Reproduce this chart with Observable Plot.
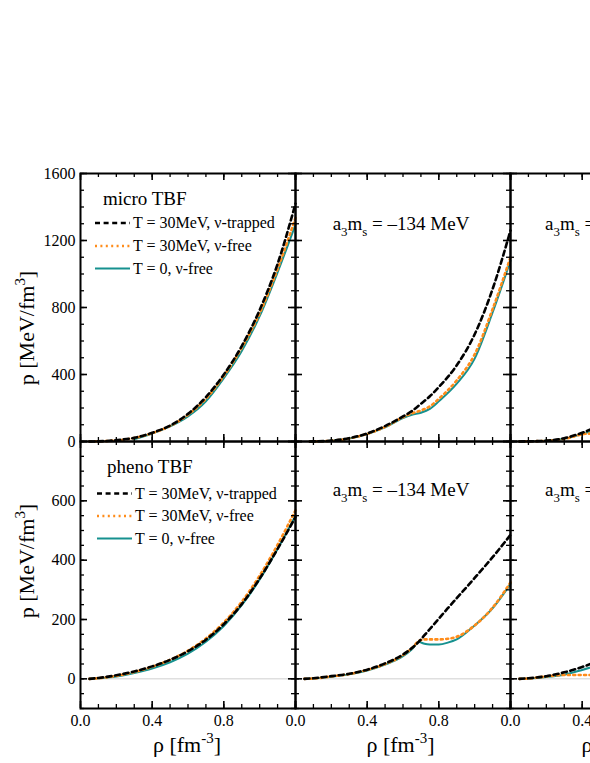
<!DOCTYPE html>
<html><head><meta charset="utf-8">
<script src="https://cdn.jsdelivr.net/npm/d3@7"></script>
<script src="https://cdn.jsdelivr.net/npm/@observablehq/plot@0.6"></script>
<style>
html,body{margin:0;padding:0;background:#fff;overflow:hidden;width:590px;height:763px;}
#chart svg{max-width:none !important;overflow:visible;display:block;}
</style></head><body><div id="chart"></div>
<script>
// ---------- data ----------
const panelsIdx = [0, 1, 2];
const legendLabels = ["T = 30MeV, \u03bd-trapped", "T = 30MeV, \u03bd-free", "T = 0, \u03bd-free"];
const rowLabels = ["micro TBF", "pheno TBF"];
const a3msValue = "\u2013134 MeV";

// top row, panel 0 (micro TBF)
const rhoA = [0.05, 0.1, 0.2, 0.3, 0.4, 0.5, 0.6, 0.7, 0.8, 0.9, 1.0, 1.1, 1.2];
const pA_trapped = [0, 1, 8, 22, 52, 95, 165, 265, 400, 570, 785, 1060, 1420];
const pA_hot     = [0, 1, 6, 21, 50, 93, 160, 255, 392, 560, 765, 1030, 1335];
const pA_cold    = [null, null, null, 13, 48, 90, 150, 240, 378, 540, 748, 1010, 1295];
// top row, panel 1 (a3ms = -134)
const rhoB = [0.08, 0.2, 0.3, 0.4, 0.5, 0.6, 0.65, 0.7, 0.75, 0.8, 0.9, 1.0, 1.1, 1.2];
const pB_trapped = [0, 5, 20, 48, 92, 150, 182, 225, 270, 325, 455, 640, 910, 1260];
const pB_hot     = [0, 4, 18, 46, 87, 145, 168, 185, 210, 255, 365, 520, 790, 1100];
const pB_cold    = [0, 4, 18, 45, 85, 140, 160, 172, 195, 240, 345, 495, 770, 1080];
// top row, panel 2 (cropped)
const rhoC = [0.05, 0.1, 0.2, 0.3, 0.4, 0.42, 0.5];
const pC_trapped = [0, 1, 5, 20, 52, 60, 100];
const pC_hot     = [0, 1, 4, 15, 43, 46, 48];
const pC_cold    = [0, 1, 4, 16, 44, 50, 88];
// bottom row, panel 0 (pheno TBF)
const rhoD = [0.05, 0.1, 0.2, 0.3, 0.4, 0.5, 0.6, 0.7, 0.8, 0.9, 1.0, 1.1, 1.2];
const pD_trapped = [0, 3, 12, 25, 42, 64, 93, 132, 184, 252, 338, 438, 545];
const pD_hot     = [0, 2, 10, 23, 41, 64, 95, 136, 190, 260, 348, 452, 568];
const pD_cold    = [0, 2, 8, 20, 35, 56, 85, 125, 178, 248, 335, 438, 550];
// bottom row, panel 1 (a3ms = -134)
const rhoE = [0.05, 0.1, 0.2, 0.3, 0.4, 0.5, 0.6, 0.65, 0.69, 0.72, 0.75, 0.8, 0.85, 0.9, 1.0, 1.1, 1.2];
const pE_trapped = [0, 2, 9, 17, 31, 52, 82, 104, 126, 147, 168, 203, 238, 272, 340, 410, 485];
const pE_hot     = [0, 1, 8, 16, 30, 50, 80, 104, 128, 133, 133, 133, 135, 142, 180, 240, 325];
const pE_cold    = [0, 1, 7, 15, 28, 48, 76, 100, 124, 118, 116, 116, 122, 133, 180, 238, 320];
// bottom row, panel 2 (cropped)
const rhoF = [0.05, 0.1, 0.2, 0.3, 0.4, 0.5];
const pF_trapped = [0, 2, 9, 22, 40, 62];
const pF_hot     = [0, 1, 8, 13, 13, 13];
const pF_cold    = [0, 1, 6, 14, 30, 48];

// ticks
const xMinorTicks = [0, 0.1, 0.2, 0.3, 0.4, 0.5, 0.6, 0.7, 0.8, 0.9, 1.0, 1.1, 1.2];
const xMajorTicks = [0, 0.4, 0.8, 1.2];
const xTickLabels = [0, 0.4, 0.8];
const yTopMinor = [0, 100, 200, 300, 400, 500, 600, 700, 800, 900, 1000, 1100, 1200, 1300, 1400, 1500, 1600];
const yTopMajor = [0, 400, 800, 1200, 1600];
const yBotMinor = [-100, -50, 0, 50, 100, 150, 200, 250, 300, 350, 400, 450, 500, 550, 600, 650, 700, 750, 800];
const yBotMajor = [0, 200, 400, 600, 800];
const yBotLabels = [0, 200, 400, 600];

// ---------- build tables ----------
function addSeries(out, panel, series, rho, p) {
  rho.forEach((r, i) => { if (p[i] != null) out.push({panel, series, rho: r, p: p[i]}); });
}
const topData = [], botData = [];
addSeries(topData, 0, "trapped", rhoA, pA_trapped); addSeries(topData, 0, "hot", rhoA, pA_hot); addSeries(topData, 0, "cold", rhoA, pA_cold);
addSeries(topData, 1, "trapped", rhoB, pB_trapped); addSeries(topData, 1, "hot", rhoB, pB_hot); addSeries(topData, 1, "cold", rhoB, pB_cold);
addSeries(topData, 2, "trapped", rhoC, pC_trapped); addSeries(topData, 2, "hot", rhoC, pC_hot); addSeries(topData, 2, "cold", rhoC, pC_cold);
addSeries(botData, 0, "trapped", rhoD, pD_trapped); addSeries(botData, 0, "hot", rhoD, pD_hot); addSeries(botData, 0, "cold", rhoD, pD_cold);
addSeries(botData, 1, "trapped", rhoE, pE_trapped); addSeries(botData, 1, "hot", rhoE, pE_hot); addSeries(botData, 1, "cold", rhoE, pE_cold);
addSeries(botData, 2, "trapped", rhoF, pF_trapped); addSeries(botData, 2, "hot", rhoF, pF_hot); addSeries(botData, 2, "cold", rhoF, pF_cold);

// ---------- styles ----------
const TEAL = "#16918f", ORANGE = "#ff8c1a", BLACK = "#000";
const styles = {
  cold:    {stroke: TEAL, strokeWidth: 2},
  hot:     {stroke: ORANGE, strokeWidth: 2.6, strokeDasharray: "2,3.4"},
  trapped: {stroke: BLACK, strokeWidth: 2.6, strokeDasharray: "5,3.6"}
};
const FONT = "'Liberation Serif','Times New Roman',serif";
const W = 215;

function lineMarks(data) {
  return ["cold", "hot", "trapped"].map(s =>
    Plot.line(data, {filter: d => d.series === s, x: "rho", y: "p", fx: "panel", curve: "monotone-x", ...styles[s]}));
}
function tickMarks(H, yMinor, yMajor) {
  const m = [];
  for (const [vals, len, sw] of [[xMinorTicks, 4, 1.3], [xMajorTicks, 7, 1.6]]) {
    m.push(Plot.tickX(vals, {x: d => d, insetBottom: H - len, stroke: "black", strokeWidth: sw}));
    m.push(Plot.tickX(vals, {x: d => d, insetTop: H - len, stroke: "black", strokeWidth: sw}));
  }
  for (const [vals, len, sw] of [[yMinor, 4, 1.3], [yMajor, 7, 1.6]]) {
    m.push(Plot.tickY(vals, {y: d => d, insetRight: W - len, stroke: "black", strokeWidth: sw}));
    m.push(Plot.tickY(vals, {y: d => d, insetLeft: W - len, stroke: "black", strokeWidth: sw}));
  }
  return m;
}

const common = {
  width: 735, marginLeft: 80, marginRight: 10,
  style: {fontFamily: FONT, fontSize: "16px", color: "black", background: "transparent", overflow: "visible", maxWidth: "none"},
  fx: {domain: panelsIdx, padding: 0, axis: null}
};

const H1 = 268;
const topPlot = Plot.plot({
  ...common, height: 441, marginTop: 173, marginBottom: 0,
  x: {domain: [0, 1.2], axis: null},
  y: {domain: [0, 1600], ticks: yTopMajor, tickFormat: "d", tickSize: 0, tickPadding: 5, label: null},
  marks: [
    ...lineMarks(topData),
    ...tickMarks(H1, yTopMinor, yTopMajor),
    Plot.frame({stroke: "black", strokeWidth: 2})
  ]
});

const H2 = 267;
const botPlot = Plot.plot({
  ...common, height: 322, marginTop: 0, marginBottom: 55,
  x: {domain: [0, 1.2], ticks: xTickLabels, tickFormat: ".1f", tickSize: 0, tickPadding: 6, label: null},
  y: {domain: [-100, 800], ticks: yBotLabels, tickFormat: "d", tickSize: 0, tickPadding: 5, label: null},
  marks: [
    Plot.ruleY([0], {stroke: "#cfcfcf", strokeWidth: 1}),
    ...lineMarks(botData),
    ...tickMarks(H2, yBotMinor, yBotMajor),
    Plot.frame({stroke: "black", strokeWidth: 2})
  ]
});

const chart = document.getElementById("chart");
chart.append(topPlot, botPlot);

// ---------- annotations ----------
function addRich(svg, x, y, size, anchor, parts, rotate) {
  const t = d3.select(svg).append("text")
    .attr("font-family", FONT).attr("font-size", size).attr("fill", "black")
    .attr("text-anchor", anchor);
  if (rotate) t.attr("transform", `translate(${x},${y}) rotate(${rotate})`);
  else t.attr("x", x).attr("y", y);
  let shift = 0;
  for (const [txt, kind] of parts) {
    const target = kind === "sub" ? size * 0.3 : kind === "sup" ? -size * 0.42 : 0;
    const sp = t.append("tspan").text(txt).attr("dy", target - shift);
    if (kind) sp.attr("font-size", size * 0.68);
    shift = target;
  }
  return t;
}
function addLegend(svg, x0, ys, textX) {
  const keys = ["trapped", "hot", "cold"];
  keys.forEach((k, i) => {
    const s = styles[k];
    d3.select(svg).append("line")
      .attr("x1", x0).attr("x2", x0 + 35).attr("y1", ys[i]).attr("y2", ys[i])
      .attr("stroke", s.stroke).attr("stroke-width", s.strokeWidth)
      .attr("stroke-dasharray", s.strokeDasharray || null);
    addRich(svg, textX, ys[i] + 5, 16, "start", [[legendLabels[i], null]]);
  });
}
const a3Parts = [["a", null], ["3", "sub"], ["m", null], ["s", "sub"], [" = " + a3msValue, null]];
const a3PartsCut = [["a", null], ["3", "sub"], ["m", null], ["s", "sub"], [" =", null]];

// top
addRich(topPlot, 103, 205, 19, "start", [[rowLabels[0], null]]);
addLegend(topPlot, 95, [223, 246, 268.5], 133);
addRich(topPlot, 401, 230, 19, "middle", a3Parts);
addRich(topPlot, 545, 230, 19, "start", a3PartsCut);
addRich(topPlot, 34, 328, 22, "middle", [["p [MeV/fm", null], ["3", "sup"], ["]", null]], -90);

// bottom
addRich(botPlot, 107, 32, 19, "start", [[rowLabels[1], null]]);
addLegend(botPlot, 97, [52.5, 75, 97.5], 135);
addRich(botPlot, 401, 55, 19, "middle", a3Parts);
addRich(botPlot, 545, 55, 19, "start", a3PartsCut);
addRich(botPlot, 34, 120, 22, "middle", [["p [MeV/fm", null], ["3", "sup"], ["]", null]], -90);
[187, 400.5, 615.5].forEach(cx =>
  addRich(botPlot, cx, 311, 22, "middle", [["\u03c1 [fm", null], ["-3", "sup"], ["]", null]]));
</script></body></html>
